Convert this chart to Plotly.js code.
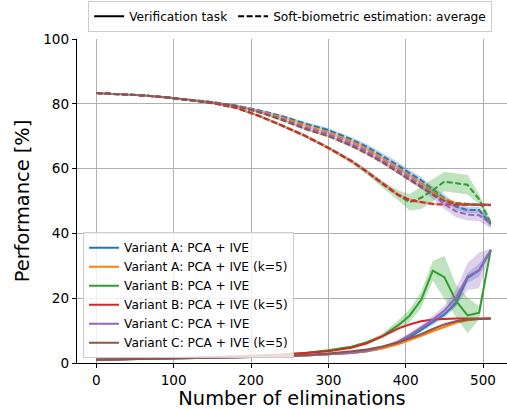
<!DOCTYPE html>
<html>
<head>
<meta charset="utf-8">
<script src="https://cdn.plot.ly/plotly-3.0.1.min.js"></script>
<style>html,body{margin:0;padding:0;background:#fff;}#chart{width:507px;height:410px;}</style>
</head>
<body>
<div id="chart"></div>
<script>
// ---- data ----
const eliminations = [0,30,60,90,120,150,180,210,240,270,300,330,350,370,390,405,420,435,450,465,480,495,510];
const seriesNames = ["Variant A: PCA + IVE","Variant A: PCA + IVE (k=5)","Variant B: PCA + IVE","Variant B: PCA + IVE (k=5)","Variant C: PCA + IVE","Variant C: PCA + IVE (k=5)"];
const seriesColors = ["#1f77b4","#ff7f0e","#2ca02c","#d62728","#9467bd","#8c564b"];

// Verification task (solid)
const verA   = [1.0,1.1,1.2,1.3,1.4,1.5,1.6,1.8,2.0,2.3,2.6,3.1,3.6,4.6,6.2,8.0,10.2,12.6,15.0,18.5,26.3,28.6,34.8];
const verAk5 = [1.0,1.1,1.2,1.3,1.4,1.5,1.6,1.8,2.0,2.3,2.6,3.1,3.6,4.5,5.8,7.0,8.4,9.8,11.2,12.4,13.2,13.6,13.7];
const verB   = [1.0,1.1,1.3,1.4,1.6,1.8,2.0,2.3,2.6,3.1,3.9,5.0,6.4,8.3,11.6,14.6,19.5,28.5,26.5,19.2,14.7,15.5,35.0];
const verBk5 = [1.0,1.1,1.3,1.4,1.6,1.8,2.0,2.3,2.6,3.1,3.6,4.7,6.1,8.3,10.6,11.9,12.9,13.4,13.6,13.7,13.7,13.7,13.7];
const verC   = [1.0,1.1,1.2,1.3,1.4,1.5,1.6,1.8,2.0,2.3,2.7,3.2,3.8,4.9,6.6,8.6,10.9,13.4,16.2,20.2,26.7,28.6,34.8];
const verCk5 = [1.0,1.1,1.2,1.3,1.4,1.5,1.7,1.9,2.1,2.5,2.9,3.6,4.2,5.1,6.3,7.6,8.9,10.5,11.9,12.9,13.4,13.6,13.7];

const verAStd   = [0.1,0.1,0.1,0.1,0.1,0.1,0.1,0.1,0.1,0.1,0.2,0.2,0.3,0.3,0.4,0.5,0.6,0.8,1.0,1.2,1.5,2.0,0.5];
const verAk5Std = [0.1,0.1,0.1,0.1,0.1,0.1,0.1,0.1,0.1,0.1,0.1,0.1,0.2,0.2,0.2,0.3,0.3,0.3,0.3,0.3,0.3,0.2,0.2];
const verBStd   = [0.1,0.1,0.1,0.1,0.1,0.1,0.1,0.1,0.2,0.2,0.3,0.3,0.5,0.8,1.5,2.0,2.5,3.0,6.5,5.0,5.5,2.0,0.5];
const verBk5Std = [0.1,0.1,0.1,0.1,0.1,0.1,0.1,0.1,0.1,0.1,0.1,0.1,0.2,0.2,0.2,0.2,0.2,0.2,0.2,0.2,0.2,0.2,0.2];
const verCStd   = [0.1,0.1,0.1,0.1,0.1,0.1,0.1,0.1,0.1,0.1,0.2,0.2,0.3,0.4,0.5,0.7,0.9,1.2,1.5,2.5,4.2,5.5,0.5];
const verCk5Std = [0.1,0.1,0.1,0.1,0.1,0.1,0.1,0.1,0.1,0.1,0.1,0.1,0.2,0.2,0.2,0.3,0.3,0.3,0.3,0.3,0.3,0.2,0.2];

// Soft-biometric estimation: average (dashed)
const softA   = [83.3,83.0,82.6,82.0,81.3,80.5,79.5,78.0,76.2,73.9,71.9,69.0,66.7,63.9,61.0,58.6,56.4,53.5,50.8,48.3,47.2,47.2,42.8];
const softAk5 = [83.3,83.0,82.6,82.0,81.3,80.5,79.4,77.8,75.8,73.3,71.2,68.3,66.0,63.2,60.2,57.8,55.6,53.0,50.6,49.4,49.0,48.8,48.8];
const softB   = [83.3,83.0,82.6,82.0,81.2,80.2,78.8,76.3,73.3,70.1,66.4,62.3,59.0,55.2,51.8,49.6,51.0,53.3,56.0,55.5,55.0,50.5,43.1];
const softBk5 = [83.3,83.0,82.6,82.0,81.2,80.2,78.8,76.3,73.3,70.1,66.4,62.3,59.0,55.4,52.0,50.3,49.6,49.1,48.9,48.8,48.8,48.8,48.8];
const softC   = [83.3,83.0,82.6,82.0,81.3,80.5,79.4,77.6,75.4,72.7,70.6,67.6,65.3,62.5,59.5,57.2,54.8,52.0,49.0,46.8,45.8,45.6,43.0];
const softCk5 = [83.3,83.0,82.6,82.0,81.3,80.4,79.3,77.4,75.0,72.2,70.0,67.0,64.6,61.9,58.8,56.5,54.3,52.0,50.0,49.2,48.9,48.8,48.8];

const softAStd   = [0.3,0.3,0.3,0.3,0.3,0.3,0.3,0.4,0.4,0.5,0.6,0.7,0.8,0.9,1.0,1.0,1.0,1.0,1.0,1.0,1.0,1.0,1.0];
const softAk5Std = [0.3,0.3,0.3,0.3,0.3,0.3,0.3,0.3,0.4,0.4,0.4,0.5,0.5,0.5,0.5,0.5,0.5,0.5,0.5,0.5,0.4,0.4,0.4];
const softBStd   = [0.3,0.3,0.3,0.3,0.3,0.3,0.4,0.4,0.5,0.5,0.6,0.7,0.8,1.0,1.5,2.5,3.5,3.5,3.0,3.0,3.0,1.5,1.0];
const softBk5Std = [0.3,0.3,0.3,0.3,0.3,0.3,0.3,0.4,0.4,0.4,0.5,0.5,0.5,0.5,0.5,0.5,0.4,0.4,0.4,0.4,0.4,0.4,0.4];
const softCStd   = [0.3,0.3,0.3,0.3,0.3,0.3,0.3,0.4,0.4,0.5,0.6,0.7,0.8,0.8,0.9,1.0,1.0,1.2,1.5,1.8,1.8,1.8,1.5];
const softCk5Std = [0.3,0.3,0.3,0.3,0.3,0.3,0.3,0.3,0.4,0.4,0.4,0.5,0.5,0.5,0.5,0.5,0.5,0.5,0.5,0.5,0.4,0.4,0.4];

const legendTop = ["Verification task","Soft-biometric estimation: average"];

// ---- build traces ----
const verAll  = [verA,verAk5,verB,verBk5,verC,verCk5];
const verStd  = [verAStd,verAk5Std,verBStd,verBk5Std,verCStd,verCk5Std];
const softAll = [softA,softAk5,softB,softBk5,softC,softCk5];
const softStd = [softAStd,softAk5Std,softBStd,softBk5Std,softCStd,softCk5Std];

function rgba(hex,a){const n=parseInt(hex.slice(1),16);return `rgba(${(n>>16)&255},${(n>>8)&255},${n&255},${a})`;}
function band(y,s,color){
  const up=y.map((v,i)=>v+s[i]); const lo=y.map((v,i)=>v-s[i]);
  return {x:eliminations.concat(eliminations.slice().reverse()), y:up.concat(lo.slice().reverse()),
    type:'scatter',mode:'lines',fill:'toself',fillcolor:rgba(color,0.3),line:{width:0},hoverinfo:'skip',showlegend:false};
}
const traces=[];
for(let i=0;i<6;i++){
  const c=seriesColors[i];
  traces.push(band(verAll[i],verStd[i],c));
  traces.push({x:eliminations,y:verAll[i],type:'scatter',mode:'lines',name:seriesNames[i],line:{color:c,width:2},legend:'legend'});
  traces.push(band(softAll[i],softStd[i],c));
  traces.push({x:eliminations,y:softAll[i],type:'scatter',mode:'lines',name:seriesNames[i],line:{color:c,width:2,dash:'6px,2.5px'},showlegend:false});
}
traces.push({x:[null],y:[null],type:'scatter',mode:'lines',name:legendTop[0],line:{color:'#000',width:2},legend:'legend2'});
traces.push({x:[null],y:[null],type:'scatter',mode:'lines',name:legendTop[1],line:{color:'#000',width:2,dash:'6px,2.5px'},legend:'legend2'});

const font={family:'DejaVu Sans',color:'#000'};
const layout={
  width:507,height:410,
  margin:{l:77,r:0,t:39,b:47},
  paper_bgcolor:'#fff',plot_bgcolor:'#fff',
  font:Object.assign({size:13.6},font),
  xaxis:{range:[-25,531],tickvals:[0,100,200,300,400,500],showgrid:true,gridcolor:'#b0b0b0',gridwidth:1,
    showline:true,linecolor:'#000',linewidth:1.2,ticks:'outside',ticklen:4,tickwidth:1,tickcolor:'#000',zeroline:false,
    tickfont:Object.assign({size:13.6},font),
    title:{text:'Number of eliminations',font:Object.assign({size:19.4},font),standoff:3}},
  yaxis:{range:[0,100],tickvals:[0,20,40,60,80,100],showgrid:true,gridcolor:'#b0b0b0',gridwidth:1,
    showline:true,linecolor:'#000',linewidth:1.2,ticks:'outside',ticklen:4,tickwidth:1,tickcolor:'#000',zeroline:false,
    tickfont:Object.assign({size:13.6},font),
    title:{text:'Performance [%]',font:Object.assign({size:19.4},font),standoff:8}},
  legend:{x:0.014,y:0.015,xanchor:'left',yanchor:'bottom',bgcolor:'rgba(255,255,255,0.8)',bordercolor:'#cccccc',borderwidth:1,
    font:Object.assign({size:12.2},font),itemwidth:30,tracegroupgap:0},
  legend2:{orientation:'h',x:0.026,y:1.118,xanchor:'left',yanchor:'top',bgcolor:'#fff',bordercolor:'#cccccc',borderwidth:1,
    font:Object.assign({size:12.2},font),itemwidth:30},
  showlegend:true
};
Plotly.newPlot('chart',traces,layout,{displayModeBar:false,staticPlot:true});
</script>
</body>
</html>
